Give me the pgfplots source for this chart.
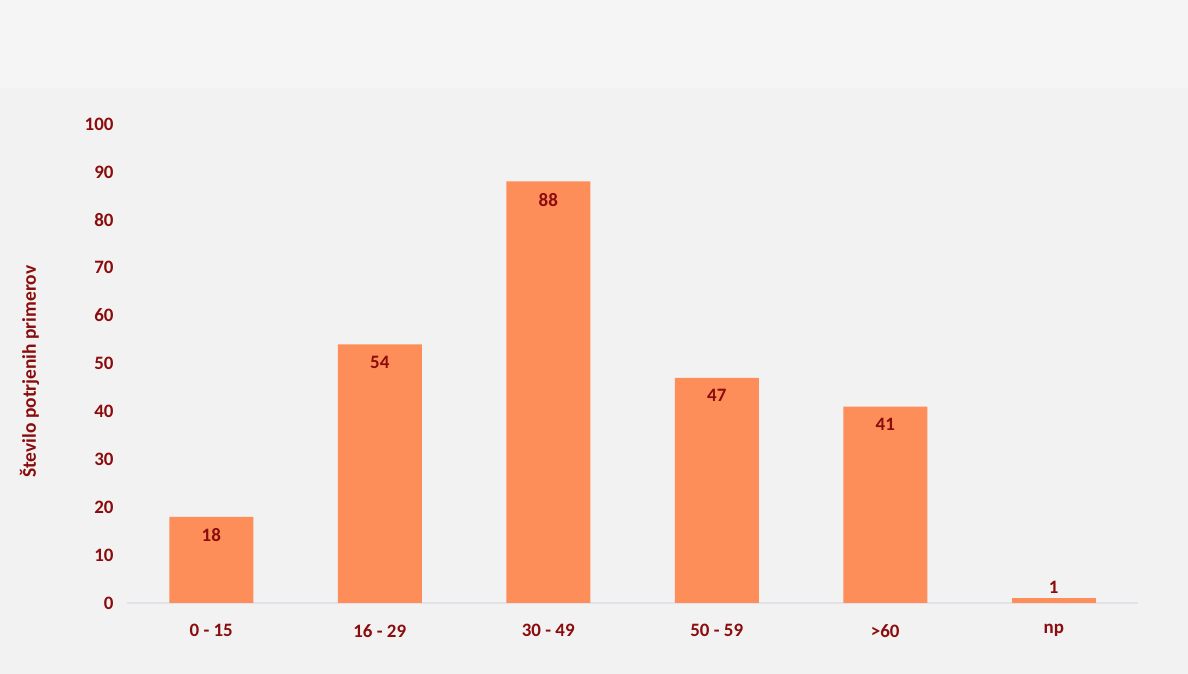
\documentclass[border=0pt]{standalone}
\usepackage{pgfplots}
\pgfplotsset{compat=1.18}
\usepackage{fontspec}
\setmainfont{Carlito}
\definecolor{bg}{RGB}{242,242,242}
\definecolor{bgtop}{RGB}{245,245,245}
\definecolor{barc}{RGB}{253,142,90}
\definecolor{txt}{RGB}{139,12,12}
\definecolor{axl}{RGB}{226,226,232}
\begin{document}
\begin{tikzpicture}[x=1bp,y=1bp]
\fill[bg] (0,0) rectangle (1188,674);
\fill[bgtop] (0,586) rectangle (1188,674);
\begin{axis}[
  at={(127bp,71bp)}, anchor=south west,
  scale only axis, width=1011bp, height=479bp,
  xmin=-0.5, xmax=5.5, ymin=0, ymax=100,
  axis line style={draw=none},
  axis x line*=bottom, axis y line*=left,
  xtick={0,1,2,3,4,5},
  xticklabels={0 - 15,16 - 29,30 - 49,50 - 59,>60,np},
  ytick={0,10,...,100},
  major tick length=0pt,
  tick label style={font=\fontsize{19}{22}\selectfont\bfseries, text=txt},
  /pgf/number format/assume math mode=true,
  xticklabel style={yshift=-18bp},
  yticklabel style={xshift=-10bp},
  ylabel={Število potrjenih primerov},
  ylabel style={font=\fontsize{19.5}{22}\selectfont\bfseries, text=txt, at={(axis description cs:-0.0965,0.483)}, anchor=center},
  clip=false,
  ybar, bar width=84bp,
]
\draw[axl, line width=1.5bp] (axis cs:-0.5,0) -- (axis cs:5.5,0);
\addplot[fill=barc, draw=none, bar shift=0,
  nodes near coords, every node near coord/.append style={anchor=north, yshift=-8bp, font=\fontsize{19}{22}\selectfont\bfseries, text=txt}]
  coordinates {(0,18) (1,54) (2,88) (3,47) (4,41)};
\addplot[fill=barc, draw=none, bar shift=0,
  nodes near coords, every node near coord/.append style={anchor=south, yshift=1.5bp, font=\fontsize{19}{22}\selectfont\bfseries, text=txt}]
  coordinates {(5,1)};
\end{axis}
\pgfresetboundingbox
\path (0,0) rectangle (1188,674);
\end{tikzpicture}
\end{document}
